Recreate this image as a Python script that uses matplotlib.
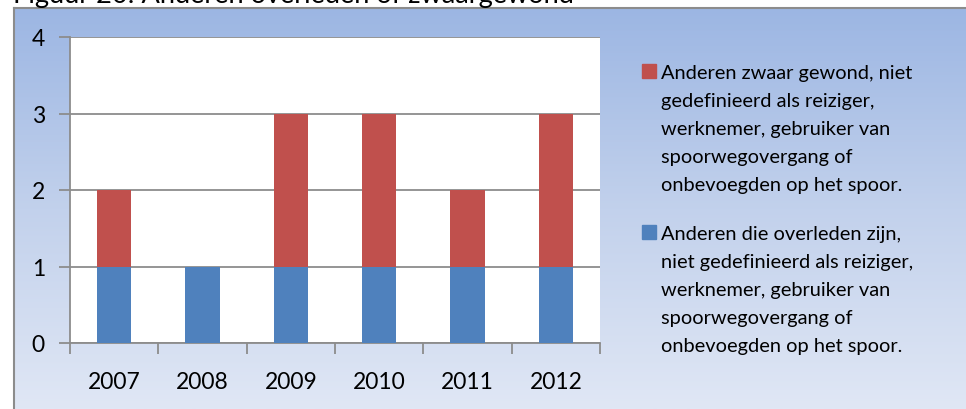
import numpy as np
import matplotlib
matplotlib.use("Agg")
import matplotlib.pyplot as plt
from matplotlib.patches import Rectangle
from matplotlib.colors import LinearSegmentedColormap

years = ["2007", "2008", "2009", "2010", "2011", "2012"]
overleden = [1, 1, 1, 1, 1, 1]
zwaargewond = [1, 0, 2, 2, 1, 2]
y_ticks = [0, 1, 2, 3, 4]
title = "Figuur 20: Anderen overleden of zwaargewond"
label_zwaar = ["Anderen zwaar gewond, niet", "gedefinieerd als reiziger,",
               "werknemer, gebruiker van", "spoorwegovergang of",
               "onbevoegden op het spoor."]
label_overleden = ["Anderen die overleden zijn,", "niet gedefinieerd als reiziger,",
                   "werknemer, gebruiker van", "spoorwegovergang of",
                   "onbevoegden op het spoor."]

RED = "#C0504D"
BLUE = "#4F81BD"
GRAY = "#8C8C8C"
FONT = "Lato"

W, H = 966, 410
fig = plt.figure(figsize=(W / 100, H / 100), dpi=100)
fig.patch.set_facecolor("white")
renderer = fig.canvas.get_renderer()


def fit_size(text, target_px):
    t = fig.text(0, 0, text, fontsize=10, family=FONT)
    w = t.get_window_extent(renderer).width
    t.remove()
    return 10 * target_px / w


FS_TICK = fit_size("2007", 53)
FS_LEG = fit_size(label_zwaar[0], 252)
FS_TITLE = fit_size(title, 562)

# gradient background frame
bg = fig.add_axes([14 / W, 0, 1 - 14 / W, 1 - 9 / H])
grad = np.linspace(0, 1, 256).reshape(-1, 1)
cmap = LinearSegmentedColormap.from_list("g", ["#9CB6E3", "#C2D1EC", "#E0E7F5"])
bg.imshow(grad, aspect="auto", cmap=cmap, extent=[0, 1, 0, 1], origin="upper")
bg.set_xlim(0, 1)
bg.set_ylim(0, 1)
bg.set_xticks([])
bg.set_yticks([])
for s in ["right", "bottom"]:
    bg.spines[s].set_visible(False)
for s in ["left", "top"]:
    bg.spines[s].set_color(GRAY)
    bg.spines[s].set_linewidth(1.5)

fig.text(13 / W, 1 - 3 / H, title, fontsize=FS_TITLE, family=FONT, va="baseline",
         ha="left", color="black")

ax = fig.add_axes([70 / W, 1 - 344 / H, (600 - 70) / W, (344 - 38) / H])
ax.set_facecolor("white")
x = np.arange(len(years))
bw = 0.39
ax.bar(x, overleden, width=bw, color=BLUE, zorder=3)
ax.bar(x, zwaargewond, width=bw, bottom=overleden, color=RED, zorder=3)
ax.set_xlim(-0.5, len(years) - 0.5)
ax.set_ylim(0, 4)
ax.set_yticks(y_ticks)
ax.set_yticklabels([str(v) for v in y_ticks], fontsize=FS_TICK, family=FONT)
ax.set_xticks(x)
ax.set_xticklabels(years, fontsize=FS_TICK, family=FONT)
ax.tick_params(axis="x", length=0, pad=20)
ax.set_xticks(np.arange(-0.5, len(years), 1), minor=True)
ax.tick_params(axis="x", which="minor", length=8, width=1.3, color=GRAY, direction="out")
ax.tick_params(axis="y", length=8, width=1.3, color=GRAY, pad=10, direction="out")
ax.yaxis.grid(True, color=GRAY, linewidth=1.3, zorder=0)
ax.set_axisbelow(True)
for s in ["top", "right"]:
    ax.spines[s].set_visible(False)
for s in ["left", "bottom"]:
    ax.spines[s].set_color(GRAY)
    ax.spines[s].set_linewidth(1.3)


# legend (manual)
def legend_block(lines, color, base0):
    fig.patches.append(Rectangle((642 / W, 1 - base0 / H), 14 / W, 14 / H,
                                 transform=fig.transFigure, color=color, figure=fig))
    for i, ln in enumerate(lines):
        fig.text(661 / W, 1 - (base0 + i * 28) / H, ln, fontsize=FS_LEG, family=FONT,
                 va="baseline", ha="left", color="black")


legend_block(label_zwaar, RED, 79)
legend_block(label_overleden, BLUE, 240)

fig.savefig("out.png", dpi=100)
